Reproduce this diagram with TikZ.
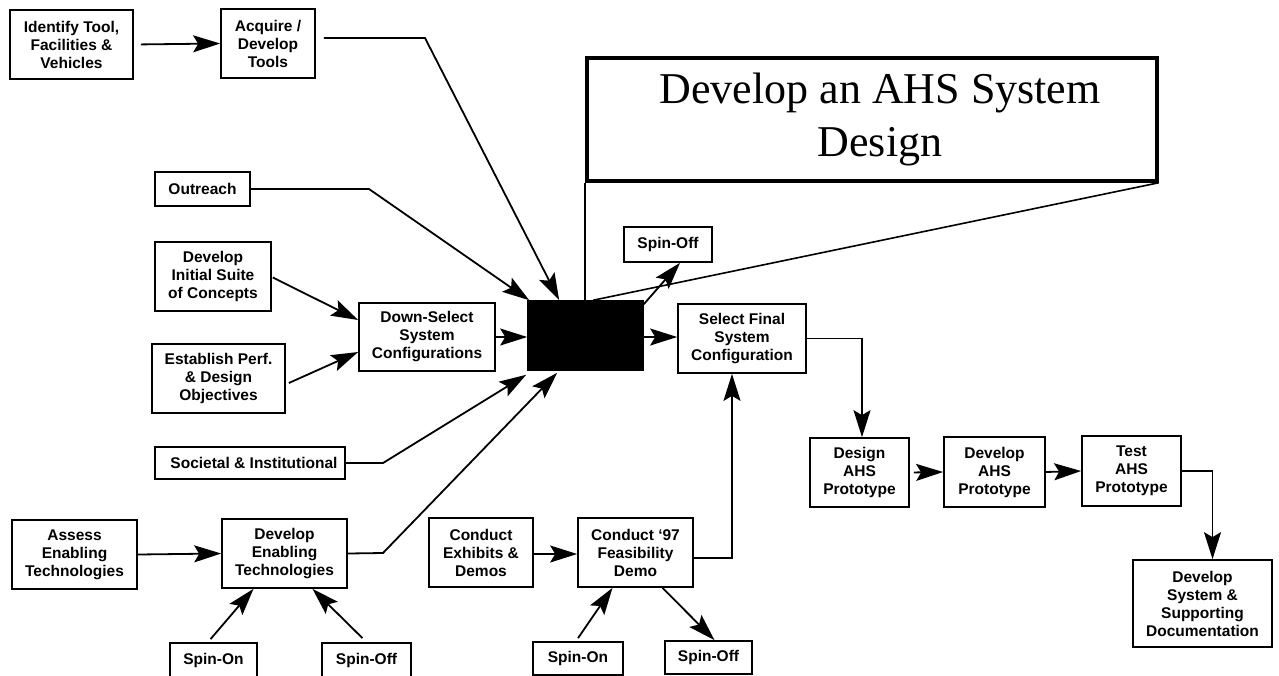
\documentclass[tikz,border=0pt]{standalone}
\usepackage{fontspec}
\setmainfont{Liberation Sans}
\newfontfamily\titlefont{Liberation Serif}
\usetikzlibrary{arrows.meta}
\begin{document}
\begin{tikzpicture}[x=1pt,y=-1pt,
  box/.style={draw, line width=1.7pt, align=center, inner sep=0pt,
    font=\fontsize{15.5}{18}\selectfont\bfseries},
  conn/.style={line width=1.8pt},
  arr/.style={conn, -{Stealth[length=27pt,width=17pt,inset=5pt]}},
]
\useasboundingbox[fill=white] (0,0) rectangle (1279,675);

% ---- title banner
\node[draw, line width=3.5pt, minimum width=570pt, minimum height=123pt, inner sep=0pt,
  align=center, font=\fontsize{44}{53}\selectfont\titlefont] (title) at (872,119.5)
  {\hspace*{16pt}Develop an AHS System\\\hspace*{16pt}Design};

% ---- tools
\node[box, minimum width=123pt, minimum height=69pt] (idtool) at (71.5,44.5) {Identify Tool,\\Facilities \&\\Vehicles};
\node[box, minimum width=94pt, minimum height=69pt] (acquire) at (268,43.5) {Acquire /\\Develop\\Tools};

% ---- inputs on the left
\node[box, minimum width=95pt, minimum height=34pt] (outreach) at (202.5,189) {Outreach};
\node[box, minimum width=116pt, minimum height=69pt] (initial) at (213,276.5) {Develop\\Initial Suite\\of Concepts};
\node[box, minimum width=133pt, minimum height=69pt] (establish) at (218.5,378.5) {Establish Perf.\\\& Design\\Objectives};
\node[box, minimum width=136pt, minimum height=68pt] (downsel) at (427,337) {Down-Select\\System\\Configurations};
\node[box, minimum width=190pt, minimum height=32pt] (societal) at (250,463) {\hspace*{8pt}Societal \& Institutional};

% ---- central design block
\node[draw, fill=black, line width=1.6pt, minimum width=115pt, minimum height=69pt] (black) at (585.5,335.5) {};
\node[box, minimum width=88pt, minimum height=35pt] (spinoffA) at (668,244.5) {Spin-Off};
\node[box, minimum width=128pt, minimum height=69pt] (final) at (742,338.5) {Select Final\\System\\Configuration};

% ---- enabling technologies
\node[box, minimum width=125pt, minimum height=69pt] (assess) at (74.5,554.5) {Assess\\Enabling\\Technologies};
\node[box, minimum width=125pt, minimum height=69pt] (enabling) at (284.5,553.5) {Develop\\Enabling\\Technologies};
\node[box, minimum width=87pt, minimum height=34pt] (spinonB) at (213.5,660) {Spin-On};
\node[box, minimum width=89pt, minimum height=34pt] (spinoffB) at (366.5,660) {Spin-Off};

% ---- feasibility demo
\node[box, minimum width=104pt, minimum height=69pt] (exhibits) at (481,552.5) {Conduct\\Exhibits \&\\Demos};
\node[box, minimum width=115pt, minimum height=69pt] (demo97) at (635.5,552.5) {Conduct ‘97\\Feasibility\\Demo};
\node[box, minimum width=90pt, minimum height=33pt] (spinonC) at (578,658.5) {Spin-On};
\node[box, minimum width=87pt, minimum height=33pt] (spinoffC) at (708.5,657.5) {Spin-Off};

% ---- prototype chain
\node[box, minimum width=99pt, minimum height=69pt] (designp) at (859.5,472.5) {Design\\AHS\\Prototype};
\node[box, minimum width=101pt, minimum height=70pt] (devp) at (994.5,472) {Develop\\AHS\\Prototype};
\node[box, minimum width=99pt, minimum height=70pt] (testp) at (1131.5,471) {Test\\AHS\\Prototype};
\node[box, minimum width=139pt, minimum height=87pt] (docs) at (1202.5,603.5) {Develop\\System \&\\Supporting\\Documentation};

% ---- bend points
\coordinate (acqbend) at (425,38);
\coordinate (outbend) at (369,189);
\coordinate (socbend) at (383,463);
\coordinate (enbend) at (383,553);

% ---- connectors
\draw[arr, shorten <=7pt] (idtool.east) -- (acquire.west);
\draw[arr] ([xshift=8pt,yshift=5.5pt]acquire.east) -- (acqbend) -- ([xshift=32pt]black.north west);
\draw[arr] (outreach.east) -- (outbend) -- ([xshift=2pt]black.north west);
\draw[arr] ([xshift=1pt,yshift=-1pt]initial.east) -- ([yshift=17pt]downsel.west);
\draw[arr] ([xshift=3pt,yshift=-4.5pt]establish.east) -- ([yshift=-15pt]downsel.west);
\draw[arr] (downsel.east) -- (downsel.east -| black.west);
\draw[arr] (societal.east) -- (socbend) -- ([xshift=-1pt,yshift=-4pt]black.south west);
\draw[arr] (enabling.east) -- (enbend) -- ([xshift=30pt,yshift=-2pt]black.south west);
\draw[arr] ([yshift=-4pt]black.north east) -- ([xshift=12pt]spinoffA.south);
\draw[arr] ([yshift=-1.5pt]black.east) -- ([yshift=1.5pt]final.west);

% banner leaders
\draw[line width=1.6pt] (title.south west) -- (title.south west |- black.north);
\draw[line width=1.6pt] (title.south east) -- ([xshift=66pt]black.north west);

\draw[arr] (final.east) -| ([xshift=2.5pt]designp.north);
\draw[arr] ([yshift=-5.5pt]demo97.east) -| ([xshift=-10pt]final.south);
\draw[arr] ([yshift=-1.5pt]exhibits.east) -- ([yshift=-1.5pt]demo97.west);
\draw[arr] ([yshift=3pt]spinonC.north) -- ([xshift=-23pt]demo97.south);
\draw[arr] ([xshift=27pt]demo97.south) -- ([xshift=6pt]spinoffC.north);

\draw[arr] (assess.east) -- (enabling.west);
\draw[arr] ([xshift=-3pt,yshift=3pt]spinonB.north) -- ([xshift=-31pt]enabling.south);
\draw[arr] ([xshift=-4pt,yshift=4pt]spinoffB.north) -- ([xshift=28pt]enabling.south);

\draw[arr, shorten <=4pt] (designp.east) -- (devp.west);
\draw[arr] (devp.east) -- (testp.west);
\draw[arr] (testp.east) -| ([xshift=10pt]docs.north);
\end{tikzpicture}
\end{document}
